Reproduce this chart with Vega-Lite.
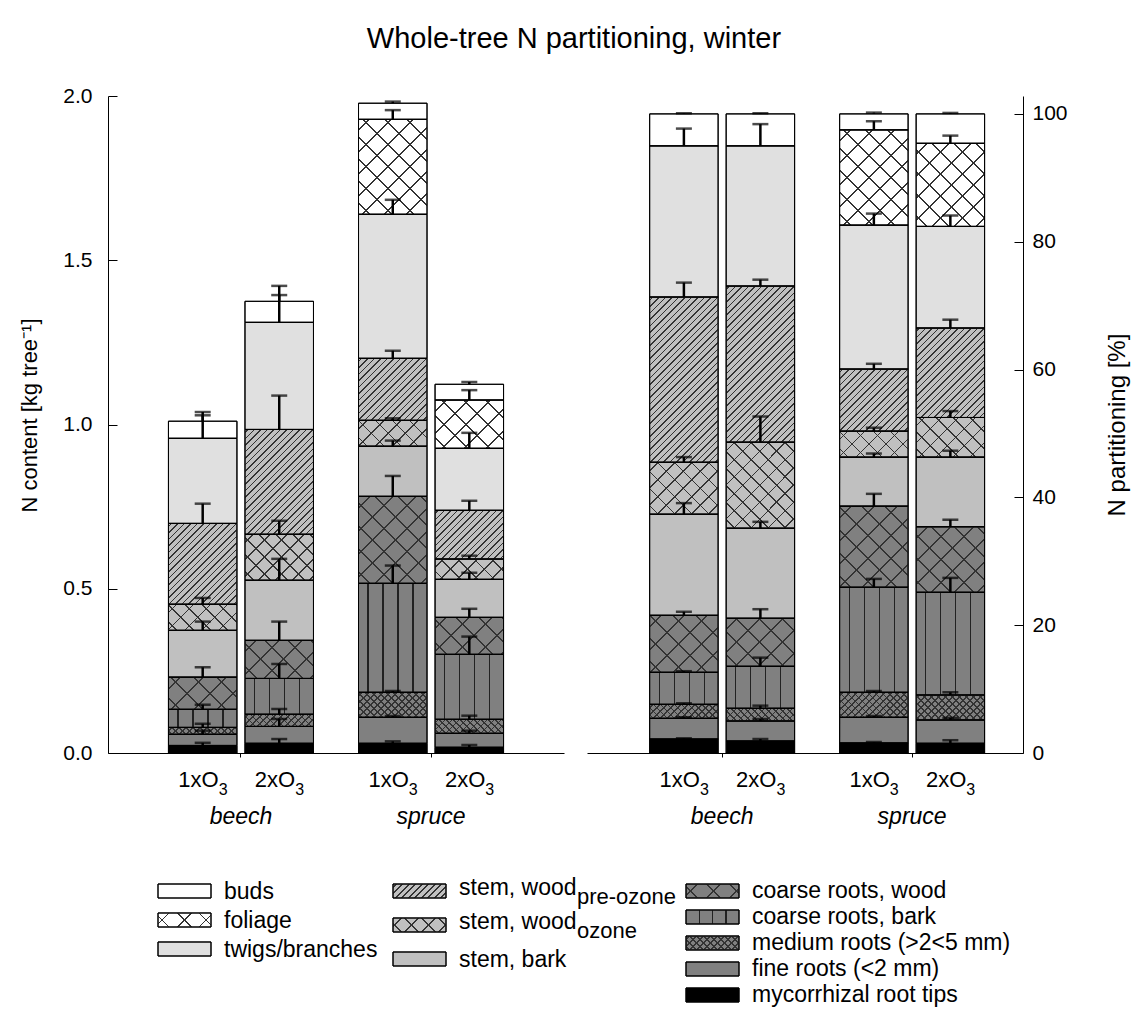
{
  "$schema": "https://vega.github.io/schema/vega-lite/v6.json",
  "background": "white",
  "padding": {"left": 18, "top": 25, "right": 10, "bottom": 10},
  "title": {"text": "Whole-tree N partitioning, winter", "fontSize": 29, "fontWeight": "normal", "font": "Liberation Sans", "color": "black", "anchor": "middle", "offset": 31},
  "params": [
    {"name": "stA", "value": [
      {"offset":0.0095,"color":"transparent"},{"offset":0.0095,"color":"#333"},{"offset":0.0155,"color":"#333"},{"offset":0.0155,"color":"transparent"},
      {"offset":0.0345,"color":"transparent"},{"offset":0.0345,"color":"#333"},{"offset":0.0405,"color":"#333"},{"offset":0.0405,"color":"transparent"},
      {"offset":0.0595,"color":"transparent"},{"offset":0.0595,"color":"#333"},{"offset":0.0655,"color":"#333"},{"offset":0.0655,"color":"transparent"},
      {"offset":0.0845,"color":"transparent"},{"offset":0.0845,"color":"#333"},{"offset":0.0905,"color":"#333"},{"offset":0.0905,"color":"transparent"},
      {"offset":0.1095,"color":"transparent"},{"offset":0.1095,"color":"#333"},{"offset":0.1155,"color":"#333"},{"offset":0.1155,"color":"transparent"},
      {"offset":0.1345,"color":"transparent"},{"offset":0.1345,"color":"#333"},{"offset":0.1405,"color":"#333"},{"offset":0.1405,"color":"transparent"},
      {"offset":0.1595,"color":"transparent"},{"offset":0.1595,"color":"#333"},{"offset":0.1655,"color":"#333"},{"offset":0.1655,"color":"transparent"},
      {"offset":0.1845,"color":"transparent"},{"offset":0.1845,"color":"#333"},{"offset":0.1905,"color":"#333"},{"offset":0.1905,"color":"transparent"},
      {"offset":0.2095,"color":"transparent"},{"offset":0.2095,"color":"#333"},{"offset":0.2155,"color":"#333"},{"offset":0.2155,"color":"transparent"},
      {"offset":0.2345,"color":"transparent"},{"offset":0.2345,"color":"#333"},{"offset":0.2405,"color":"#333"},{"offset":0.2405,"color":"transparent"},
      {"offset":0.2595,"color":"transparent"},{"offset":0.2595,"color":"#333"},{"offset":0.2655,"color":"#333"},{"offset":0.2655,"color":"transparent"},
      {"offset":0.2845,"color":"transparent"},{"offset":0.2845,"color":"#333"},{"offset":0.2905,"color":"#333"},{"offset":0.2905,"color":"transparent"},
      {"offset":0.3095,"color":"transparent"},{"offset":0.3095,"color":"#333"},{"offset":0.3155,"color":"#333"},{"offset":0.3155,"color":"transparent"},
      {"offset":0.3345,"color":"transparent"},{"offset":0.3345,"color":"#333"},{"offset":0.3405,"color":"#333"},{"offset":0.3405,"color":"transparent"},
      {"offset":0.3595,"color":"transparent"},{"offset":0.3595,"color":"#333"},{"offset":0.3655,"color":"#333"},{"offset":0.3655,"color":"transparent"},
      {"offset":0.3845,"color":"transparent"},{"offset":0.3845,"color":"#333"},{"offset":0.3905,"color":"#333"},{"offset":0.3905,"color":"transparent"},
      {"offset":0.4095,"color":"transparent"},{"offset":0.4095,"color":"#333"},{"offset":0.4155,"color":"#333"},{"offset":0.4155,"color":"transparent"},
      {"offset":0.4345,"color":"transparent"},{"offset":0.4345,"color":"#333"},{"offset":0.4405,"color":"#333"},{"offset":0.4405,"color":"transparent"},
      {"offset":0.4595,"color":"transparent"},{"offset":0.4595,"color":"#333"},{"offset":0.4655,"color":"#333"},{"offset":0.4655,"color":"transparent"},
      {"offset":0.4845,"color":"transparent"},{"offset":0.4845,"color":"#333"},{"offset":0.4905,"color":"#333"},{"offset":0.4905,"color":"transparent"},
      {"offset":0.5095,"color":"transparent"},{"offset":0.5095,"color":"#333"},{"offset":0.5155,"color":"#333"},{"offset":0.5155,"color":"transparent"},
      {"offset":0.5345,"color":"transparent"},{"offset":0.5345,"color":"#333"},{"offset":0.5405,"color":"#333"},{"offset":0.5405,"color":"transparent"},
      {"offset":0.5595,"color":"transparent"},{"offset":0.5595,"color":"#333"},{"offset":0.5655,"color":"#333"},{"offset":0.5655,"color":"transparent"},
      {"offset":0.5845,"color":"transparent"},{"offset":0.5845,"color":"#333"},{"offset":0.5905,"color":"#333"},{"offset":0.5905,"color":"transparent"},
      {"offset":0.6095,"color":"transparent"},{"offset":0.6095,"color":"#333"},{"offset":0.6155,"color":"#333"},{"offset":0.6155,"color":"transparent"},
      {"offset":0.6345,"color":"transparent"},{"offset":0.6345,"color":"#333"},{"offset":0.6405,"color":"#333"},{"offset":0.6405,"color":"transparent"},
      {"offset":0.6595,"color":"transparent"},{"offset":0.6595,"color":"#333"},{"offset":0.6655,"color":"#333"},{"offset":0.6655,"color":"transparent"},
      {"offset":0.6845,"color":"transparent"},{"offset":0.6845,"color":"#333"},{"offset":0.6905,"color":"#333"},{"offset":0.6905,"color":"transparent"},
      {"offset":0.7095,"color":"transparent"},{"offset":0.7095,"color":"#333"},{"offset":0.7155,"color":"#333"},{"offset":0.7155,"color":"transparent"},
      {"offset":0.7345,"color":"transparent"},{"offset":0.7345,"color":"#333"},{"offset":0.7405,"color":"#333"},{"offset":0.7405,"color":"transparent"},
      {"offset":0.7595,"color":"transparent"},{"offset":0.7595,"color":"#333"},{"offset":0.7655,"color":"#333"},{"offset":0.7655,"color":"transparent"},
      {"offset":0.7845,"color":"transparent"},{"offset":0.7845,"color":"#333"},{"offset":0.7905,"color":"#333"},{"offset":0.7905,"color":"transparent"},
      {"offset":0.8095,"color":"transparent"},{"offset":0.8095,"color":"#333"},{"offset":0.8155,"color":"#333"},{"offset":0.8155,"color":"transparent"},
      {"offset":0.8345,"color":"transparent"},{"offset":0.8345,"color":"#333"},{"offset":0.8405,"color":"#333"},{"offset":0.8405,"color":"transparent"},
      {"offset":0.8595,"color":"transparent"},{"offset":0.8595,"color":"#333"},{"offset":0.8655,"color":"#333"},{"offset":0.8655,"color":"transparent"},
      {"offset":0.8845,"color":"transparent"},{"offset":0.8845,"color":"#333"},{"offset":0.8905,"color":"#333"},{"offset":0.8905,"color":"transparent"},
      {"offset":0.9095,"color":"transparent"},{"offset":0.9095,"color":"#333"},{"offset":0.9155,"color":"#333"},{"offset":0.9155,"color":"transparent"},
      {"offset":0.9345,"color":"transparent"},{"offset":0.9345,"color":"#333"},{"offset":0.9405,"color":"#333"},{"offset":0.9405,"color":"transparent"},
      {"offset":0.9595,"color":"transparent"},{"offset":0.9595,"color":"#333"},{"offset":0.9655,"color":"#333"},{"offset":0.9655,"color":"transparent"},
      {"offset":0.9845,"color":"transparent"},{"offset":0.9845,"color":"#333"},{"offset":0.9905,"color":"#333"},{"offset":0.9905,"color":"transparent"}
    ]},
    {"name": "stB", "value": [
      {"offset":0.0379,"color":"transparent"},{"offset":0.0379,"color":"#333"},{"offset":0.0454,"color":"#333"},{"offset":0.0454,"color":"transparent"},
      {"offset":0.1213,"color":"transparent"},{"offset":0.1213,"color":"#333"},{"offset":0.1288,"color":"#333"},{"offset":0.1288,"color":"transparent"},
      {"offset":0.2046,"color":"transparent"},{"offset":0.2046,"color":"#333"},{"offset":0.2121,"color":"#333"},{"offset":0.2121,"color":"transparent"},
      {"offset":0.2879,"color":"transparent"},{"offset":0.2879,"color":"#333"},{"offset":0.2954,"color":"#333"},{"offset":0.2954,"color":"transparent"},
      {"offset":0.3713,"color":"transparent"},{"offset":0.3713,"color":"#333"},{"offset":0.3788,"color":"#333"},{"offset":0.3788,"color":"transparent"},
      {"offset":0.4546,"color":"transparent"},{"offset":0.4546,"color":"#333"},{"offset":0.4621,"color":"#333"},{"offset":0.4621,"color":"transparent"},
      {"offset":0.5379,"color":"transparent"},{"offset":0.5379,"color":"#333"},{"offset":0.5454,"color":"#333"},{"offset":0.5454,"color":"transparent"},
      {"offset":0.6213,"color":"transparent"},{"offset":0.6213,"color":"#333"},{"offset":0.6288,"color":"#333"},{"offset":0.6288,"color":"transparent"},
      {"offset":0.7046,"color":"transparent"},{"offset":0.7046,"color":"#333"},{"offset":0.7121,"color":"#333"},{"offset":0.7121,"color":"transparent"},
      {"offset":0.7879,"color":"transparent"},{"offset":0.7879,"color":"#333"},{"offset":0.7954,"color":"#333"},{"offset":0.7954,"color":"transparent"},
      {"offset":0.8713,"color":"transparent"},{"offset":0.8713,"color":"#333"},{"offset":0.8788,"color":"#333"},{"offset":0.8788,"color":"transparent"},
      {"offset":0.9546,"color":"transparent"},{"offset":0.9546,"color":"#333"},{"offset":0.9621,"color":"#333"},{"offset":0.9621,"color":"transparent"}
    ]}
  ],
  "datasets": {
    "parts": [
      {"species":"beech","ozone":"1x","component":"mycorrhizal root tips","n":0.023,"n_se":0.008,"pct":2.19,"pct_se":0.11},
      {"species":"beech","ozone":"1x","component":"fine roots (<2 mm)","n":0.034,"n_se":0.011,"pct":3.24,"pct_se":0.16},
      {"species":"beech","ozone":"1x","component":"medium roots (>2<5 mm)","n":0.021,"n_se":0.011,"pct":2.19,"pct_se":0.16},
      {"species":"beech","ozone":"1x","component":"coarse roots, bark","n":0.055,"n_se":0.014,"pct":5.01,"pct_se":0.17},
      {"species":"beech","ozone":"1x","component":"coarse roots, wood","n":0.098,"n_se":0.03,"pct":8.92,"pct_se":0.55},
      {"species":"beech","ozone":"1x","component":"stem, bark","n":0.1425,"n_se":0.0265,"pct":15.82,"pct_se":1.73},
      {"species":"beech","ozone":"1x","component":"stem, wood ozone","n":0.0795,"n_se":0.019,"pct":8.13,"pct_se":0.8},
      {"species":"beech","ozone":"1x","component":"stem, wood pre-ozone","n":0.246,"n_se":0.06,"pct":25.85,"pct_se":2.25},
      {"species":"beech","ozone":"1x","component":"twigs/branches","n":0.259,"n_se":0.07,"pct":23.65,"pct_se":2.7},
      {"species":"beech","ozone":"1x","component":"buds","n":0.052,"n_se":0.028,"pct":5.0,"pct_se":0.1},
      {"species":"beech","ozone":"2x","component":"mycorrhizal root tips","n":0.0295,"n_se":0.013,"pct":1.88,"pct_se":0.31},
      {"species":"beech","ozone":"2x","component":"fine roots (<2 mm)","n":0.0515,"n_se":0.0225,"pct":3.13,"pct_se":0.31},
      {"species":"beech","ozone":"2x","component":"medium roots (>2<5 mm)","n":0.037,"n_se":0.016,"pct":1.99,"pct_se":0.41},
      {"species":"beech","ozone":"2x","component":"coarse roots, bark","n":0.109,"n_se":0.044,"pct":6.57,"pct_se":1.35},
      {"species":"beech","ozone":"2x","component":"coarse roots, wood","n":0.116,"n_se":0.057,"pct":7.52,"pct_se":1.41},
      {"species":"beech","ozone":"2x","component":"stem, bark","n":0.183,"n_se":0.065,"pct":14.09,"pct_se":0.99},
      {"species":"beech","ozone":"2x","component":"stem, wood ozone","n":0.14,"n_se":0.041,"pct":13.46,"pct_se":4.01},
      {"species":"beech","ozone":"2x","component":"stem, wood pre-ozone","n":0.319,"n_se":0.103,"pct":24.43,"pct_se":0.99},
      {"species":"beech","ozone":"2x","component":"twigs/branches","n":0.326,"n_se":0.083,"pct":21.93,"pct_se":3.4},
      {"species":"beech","ozone":"2x","component":"buds","n":0.064,"n_se":0.047,"pct":5.0,"pct_se":0.1},
      {"species":"spruce","ozone":"1x","component":"mycorrhizal root tips","n":0.0295,"n_se":0.006,"pct":1.57,"pct_se":0.15},
      {"species":"spruce","ozone":"1x","component":"fine roots (<2 mm)","n":0.0792,"n_se":0.004,"pct":4.02,"pct_se":0.2},
      {"species":"spruce","ozone":"1x","component":"medium roots (>2<5 mm)","n":0.0761,"n_se":0.004,"pct":3.91,"pct_se":0.2},
      {"species":"spruce","ozone":"1x","component":"coarse roots, bark","n":0.3318,"n_se":0.054,"pct":16.44,"pct_se":1.3},
      {"species":"spruce","ozone":"1x","component":"coarse roots, wood","n":0.2648,"n_se":0.062,"pct":12.69,"pct_se":1.92},
      {"species":"spruce","ozone":"1x","component":"stem, bark","n":0.1526,"n_se":0.017,"pct":7.67,"pct_se":0.56},
      {"species":"spruce","ozone":"1x","component":"stem, wood ozone","n":0.0788,"n_se":0.006,"pct":4.07,"pct_se":0.53},
      {"species":"spruce","ozone":"1x","component":"stem, wood pre-ozone","n":0.1887,"n_se":0.023,"pct":9.71,"pct_se":0.82},
      {"species":"spruce","ozone":"1x","component":"twigs/branches","n":0.4385,"n_se":0.044,"pct":22.52,"pct_se":1.8},
      {"species":"spruce","ozone":"1x","component":"foliage","n":0.289,"n_se":0.028,"pct":14.9,"pct_se":1.35},
      {"species":"spruce","ozone":"1x","component":"buds","n":0.049,"n_se":0.005,"pct":2.5,"pct_se":0.2},
      {"species":"spruce","ozone":"2x","component":"mycorrhizal root tips","n":0.0174,"n_se":0.007,"pct":1.52,"pct_se":0.48},
      {"species":"spruce","ozone":"2x","component":"fine roots (<2 mm)","n":0.0426,"n_se":0.008,"pct":3.65,"pct_se":0.33},
      {"species":"spruce","ozone":"2x","component":"medium roots (>2<5 mm)","n":0.0426,"n_se":0.011,"pct":3.91,"pct_se":0.42},
      {"species":"spruce","ozone":"2x","component":"coarse roots, bark","n":0.1978,"n_se":0.054,"pct":16.07,"pct_se":2.25},
      {"species":"spruce","ozone":"2x","component":"coarse roots, wood","n":0.1126,"n_se":0.026,"pct":10.25,"pct_se":1.1},
      {"species":"spruce","ozone":"2x","component":"stem, bark","n":0.1157,"n_se":0.02,"pct":10.9,"pct_se":1.0},
      {"species":"spruce","ozone":"2x","component":"stem, wood ozone","n":0.0619,"n_se":0.01,"pct":6.2,"pct_se":1.0},
      {"species":"spruce","ozone":"2x","component":"stem, wood pre-ozone","n":0.1482,"n_se":0.029,"pct":14.0,"pct_se":1.3},
      {"species":"spruce","ozone":"2x","component":"twigs/branches","n":0.1888,"n_se":0.047,"pct":15.9,"pct_se":1.7},
      {"species":"spruce","ozone":"2x","component":"foliage","n":0.147,"n_se":0.03,"pct":13.0,"pct_se":1.2},
      {"species":"spruce","ozone":"2x","component":"buds","n":0.0478,"n_se":0.007,"pct":4.6,"pct_se":0.15}
    ]
  },
  "data": {"name": "parts"},
  "config": {
    "font": "Liberation Sans",
    "view": {"stroke": null},
    "text": {"font": "Liberation Sans"},
    "axis": {"labelFont": "Liberation Sans", "titleFont": "Liberation Sans", "labelFontSize": 21, "titleFontSize": 23, "titleFontWeight": "normal", "labelColor": "black", "titleColor": "black", "domainColor": "black", "tickColor": "black", "grid": false, "domainWidth": 1, "tickWidth": 1}
  },
  "spacing": 49,
  "vconcat": [
    {
      "hconcat": [
        {
          "width": 456, "height": 657,
          "transform": [
            {"stack": "n", "groupby": ["species", "ozone"], "as": ["lo", "hi"]},
            {"calculate": "datum.hi + datum.n_se", "as": "tip"}
          ],
          "encoding": {
            "x": {"field": "species", "type": "nominal", "sort": ["beech", "spruce"], "scale": {"paddingInner": 0.237, "paddingOuter": 0.318}, "axis": {"title": null, "labelFontStyle": "italic", "labelFontSize": 23, "labelAngle": 0, "labelPadding": 48, "tickSize": 4}},
            "xOffset": {"field": "ozone", "type": "nominal", "sort": ["1x", "2x"], "scale": {"paddingInner": 0.105, "paddingOuter": 0}}
          },
          "layer": [
            {
              "mark": {"type": "bar", "stroke": "black", "strokeWidth": 1},
              "encoding": {
                "y": {"field": "lo", "type": "quantitative", "scale": {"domain": [0, 2], "nice": false}, "axis": {"title": "N content [kg tree⁻¹]", "titleFontSize": 22, "titleY": 319, "values": [0, 0.5, 1, 1.5, 2], "format": ".1f", "tickSize": -9, "labelPadding": 25, "titlePadding": 21}},
                "y2": {"field": "hi"},
                "color": {"field": "component", "type": "nominal", "legend": null, "scale": {"domain": ["buds", "foliage", "twigs/branches", "stem, wood pre-ozone", "stem, wood ozone", "stem, bark", "coarse roots, wood", "coarse roots, bark", "medium roots (>2<5 mm)", "fine roots (<2 mm)", "mycorrhizal root tips"], "range": ["#ffffff", "#ffffff", "#e0e0e0", "#c0c0c0", "#c0c0c0", "#c0c0c0", "#808080", "#808080", "#808080", "#808080", "#000000"]}}
              }
            },
            {
              "transform": [{"filter": {"field": "component", "oneOf": ["stem, wood pre-ozone", "stem, wood ozone", "foliage", "coarse roots, wood", "medium roots (>2<5 mm)"]}}],
              "mark": {"type": "bar", "fill": {"expr": "{gradient: 'linear', x1: 0, y1: 0, x2: 68.5 * (datum.component == 'stem, wood pre-ozone' ? 260 : datum.component == 'medium roots (>2<5 mm)' ? 280 : datum.component == 'stem, wood ozone' ? 204 : datum.component == 'foliage' ? 264 : 276) / (4692.25 + pow((datum.hi - datum.lo) * 328.5, 2)), y2: (datum.hi - datum.lo) * 328.5 * (datum.component == 'stem, wood pre-ozone' ? 260 : datum.component == 'medium roots (>2<5 mm)' ? 280 : datum.component == 'stem, wood ozone' ? 204 : datum.component == 'foliage' ? 264 : 276) / (4692.25 + pow((datum.hi - datum.lo) * 328.5, 2)), stops: (datum.component == 'stem, wood pre-ozone' || datum.component == 'medium roots (>2<5 mm)' ? stA : stB)}"}},
              "encoding": {"y": {"field": "lo", "type": "quantitative"}, "y2": {"field": "hi"}}
            },
            {
              "transform": [{"filter": {"field": "component", "oneOf": ["stem, wood ozone", "foliage", "coarse roots, wood", "medium roots (>2<5 mm)"]}}],
              "mark": {"type": "bar", "fill": {"expr": "{gradient: 'linear', x1: 0, y1: 1, x2: 68.5 * (datum.component == 'medium roots (>2<5 mm)' ? 280 : datum.component == 'stem, wood ozone' ? 204 : datum.component == 'foliage' ? 264 : 276) / (4692.25 + pow((datum.hi - datum.lo) * 328.5, 2)), y2: 1 - (datum.hi - datum.lo) * 328.5 * (datum.component == 'medium roots (>2<5 mm)' ? 280 : datum.component == 'stem, wood ozone' ? 204 : datum.component == 'foliage' ? 264 : 276) / (4692.25 + pow((datum.hi - datum.lo) * 328.5, 2)), stops: (datum.component == 'medium roots (>2<5 mm)' ? stA : stB)}"}},
              "encoding": {"y": {"field": "lo", "type": "quantitative"}, "y2": {"field": "hi"}}
            },
            {
              "transform": [{"filter": "datum.component == 'coarse roots, bark'"}],
              "mark": {"type": "bar", "fill": {"gradient": "linear", "x1": 0, "y1": 0, "x2": 1, "y2": 0, "stops": [{"offset":0.1299,"color":"transparent"},{"offset":0.1299,"color":"#222"},{"offset":0.1474,"color":"#222"},{"offset":0.1474,"color":"transparent"},{"offset":0.3489,"color":"transparent"},{"offset":0.3489,"color":"#222"},{"offset":0.3664,"color":"#222"},{"offset":0.3664,"color":"transparent"},{"offset":0.5679,"color":"transparent"},{"offset":0.5679,"color":"#222"},{"offset":0.5854,"color":"#222"},{"offset":0.5854,"color":"transparent"},{"offset":0.7869,"color":"transparent"},{"offset":0.7869,"color":"#222"},{"offset":0.8044,"color":"#222"},{"offset":0.8044,"color":"transparent"}]}},
              "encoding": {"y": {"field": "lo", "type": "quantitative"}, "y2": {"field": "hi"}}
            },
            {
              "mark": {"type": "bar", "fill": "transparent", "stroke": "black", "strokeWidth": 1},
              "encoding": {"y": {"field": "lo", "type": "quantitative"}, "y2": {"field": "hi"}}
            },
            {
              "mark": {"type": "rule", "color": "black", "strokeWidth": 2.5},
              "encoding": {"y": {"field": "hi", "type": "quantitative"}, "y2": {"field": "tip"}}
            },
            {
              "mark": {"type": "tick", "orient": "horizontal", "color": "black", "size": 16, "thickness": 2.5},
              "encoding": {"y": {"field": "tip", "type": "quantitative"}}
            },
            {
              "transform": [{"filter": "datum.component == 'buds'"}],
              "mark": {"type": "text", "text": {"expr": "datum.ozone + 'O'"}, "align": "right", "baseline": "alphabetic", "dx": 16, "dy": 34, "fontSize": 22, "color": "black"},
              "encoding": {"y": {"datum": 0, "type": "quantitative"}}
            },
            {
              "transform": [{"filter": "datum.component == 'buds'"}],
              "mark": {"type": "text", "text": "3", "align": "left", "baseline": "alphabetic", "dx": 16, "dy": 42, "fontSize": 16, "color": "black"},
              "encoding": {"y": {"datum": 0, "type": "quantitative"}}
            }
          ]
        },
        {
          "width": 436, "height": 657,
          "transform": [
            {"stack": "pct", "groupby": ["species", "ozone"], "as": ["lo", "hi"]},
            {"calculate": "datum.hi + datum.pct_se", "as": "tip"}
          ],
          "encoding": {
            "x": {"field": "species", "type": "nominal", "sort": ["beech", "spruce"], "scale": {"paddingInner": 0.237, "paddingOuter": 0.266, "align": 0.62}, "axis": {"title": null, "labelFontStyle": "italic", "labelFontSize": 23, "labelAngle": 0, "labelPadding": 48, "tickSize": 4}},
            "xOffset": {"field": "ozone", "type": "nominal", "sort": ["1x", "2x"], "scale": {"paddingInner": 0.105, "paddingOuter": 0}}
          },
          "layer": [
            {
              "mark": {"type": "bar", "stroke": "black", "strokeWidth": 1},
              "encoding": {
                "y": {"field": "lo", "type": "quantitative", "scale": {"domain": [0, 102.8], "nice": false}, "axis": {"orient": "right", "title": "N partitioning [%]", "titleFontSize": 24, "values": [0, 20, 40, 60, 80, 100], "format": "d", "tickSize": -9, "labelPadding": 18, "titlePadding": 62, "titleAngle": 270}},
                "y2": {"field": "hi"},
                "color": {"field": "component", "type": "nominal", "legend": null, "scale": {"domain": ["buds", "foliage", "twigs/branches", "stem, wood pre-ozone", "stem, wood ozone", "stem, bark", "coarse roots, wood", "coarse roots, bark", "medium roots (>2<5 mm)", "fine roots (<2 mm)", "mycorrhizal root tips"], "range": ["#ffffff", "#ffffff", "#e0e0e0", "#c0c0c0", "#c0c0c0", "#c0c0c0", "#808080", "#808080", "#808080", "#808080", "#000000"]}}
              }
            },
            {
              "transform": [{"filter": {"field": "component", "oneOf": ["stem, wood pre-ozone", "stem, wood ozone", "foliage", "coarse roots, wood", "medium roots (>2<5 mm)"]}}],
              "mark": {"type": "bar", "fill": {"expr": "{gradient: 'linear', x1: 0, y1: 0, x2: 68.5 * (datum.component == 'stem, wood pre-ozone' ? 260 : datum.component == 'medium roots (>2<5 mm)' ? 280 : datum.component == 'stem, wood ozone' ? 204 : datum.component == 'foliage' ? 264 : 276) / (4692.25 + pow((datum.hi - datum.lo) * 6.3911, 2)), y2: (datum.hi - datum.lo) * 6.3911 * (datum.component == 'stem, wood pre-ozone' ? 260 : datum.component == 'medium roots (>2<5 mm)' ? 280 : datum.component == 'stem, wood ozone' ? 204 : datum.component == 'foliage' ? 264 : 276) / (4692.25 + pow((datum.hi - datum.lo) * 6.3911, 2)), stops: (datum.component == 'stem, wood pre-ozone' || datum.component == 'medium roots (>2<5 mm)' ? stA : stB)}"}},
              "encoding": {"y": {"field": "lo", "type": "quantitative"}, "y2": {"field": "hi"}}
            },
            {
              "transform": [{"filter": {"field": "component", "oneOf": ["stem, wood ozone", "foliage", "coarse roots, wood", "medium roots (>2<5 mm)"]}}],
              "mark": {"type": "bar", "fill": {"expr": "{gradient: 'linear', x1: 0, y1: 1, x2: 68.5 * (datum.component == 'medium roots (>2<5 mm)' ? 280 : datum.component == 'stem, wood ozone' ? 204 : datum.component == 'foliage' ? 264 : 276) / (4692.25 + pow((datum.hi - datum.lo) * 6.3911, 2)), y2: 1 - (datum.hi - datum.lo) * 6.3911 * (datum.component == 'medium roots (>2<5 mm)' ? 280 : datum.component == 'stem, wood ozone' ? 204 : datum.component == 'foliage' ? 264 : 276) / (4692.25 + pow((datum.hi - datum.lo) * 6.3911, 2)), stops: (datum.component == 'medium roots (>2<5 mm)' ? stA : stB)}"}},
              "encoding": {"y": {"field": "lo", "type": "quantitative"}, "y2": {"field": "hi"}}
            },
            {
              "transform": [{"filter": "datum.component == 'coarse roots, bark'"}],
              "mark": {"type": "bar", "fill": {"gradient": "linear", "x1": 0, "y1": 0, "x2": 1, "y2": 0, "stops": [{"offset":0.1299,"color":"transparent"},{"offset":0.1299,"color":"#222"},{"offset":0.1474,"color":"#222"},{"offset":0.1474,"color":"transparent"},{"offset":0.3489,"color":"transparent"},{"offset":0.3489,"color":"#222"},{"offset":0.3664,"color":"#222"},{"offset":0.3664,"color":"transparent"},{"offset":0.5679,"color":"transparent"},{"offset":0.5679,"color":"#222"},{"offset":0.5854,"color":"#222"},{"offset":0.5854,"color":"transparent"},{"offset":0.7869,"color":"transparent"},{"offset":0.7869,"color":"#222"},{"offset":0.8044,"color":"#222"},{"offset":0.8044,"color":"transparent"}]}},
              "encoding": {"y": {"field": "lo", "type": "quantitative"}, "y2": {"field": "hi"}}
            },
            {
              "mark": {"type": "bar", "fill": "transparent", "stroke": "black", "strokeWidth": 1},
              "encoding": {"y": {"field": "lo", "type": "quantitative"}, "y2": {"field": "hi"}}
            },
            {
              "mark": {"type": "rule", "color": "black", "strokeWidth": 2.5},
              "encoding": {"y": {"field": "hi", "type": "quantitative"}, "y2": {"field": "tip"}}
            },
            {
              "mark": {"type": "tick", "orient": "horizontal", "color": "black", "size": 16, "thickness": 2.5},
              "encoding": {"y": {"field": "tip", "type": "quantitative"}}
            },
            {
              "transform": [{"filter": "datum.component == 'buds'"}],
              "mark": {"type": "text", "text": {"expr": "datum.ozone + 'O'"}, "align": "right", "baseline": "alphabetic", "dx": 16, "dy": 34, "fontSize": 22, "color": "black"},
              "encoding": {"y": {"datum": 0, "type": "quantitative"}}
            },
            {
              "transform": [{"filter": "datum.component == 'buds'"}],
              "mark": {"type": "text", "text": "3", "align": "left", "baseline": "alphabetic", "dx": 16, "dy": 42, "fontSize": 16, "color": "black"},
              "encoding": {"y": {"datum": 0, "type": "quantitative"}}
            }
          ]
        }
      ],
      "spacing": 23,
      "bounds": "flush",
      "resolve": {"scale": {"xOffset": "independent"}}
    },
    {
      "hconcat": [
        {
          "width": 285, "height": 72,
          "transform": [
            {"filter": "datum.species == 'spruce' && datum.ozone == '1x'"},
            {"filter": {"field": "component", "oneOf": ["buds", "foliage", "twigs/branches"]}}
          ],
          "encoding": {
            "x": {"field": "species", "type": "nominal", "scale": {"paddingInner": 0.5431, "paddingOuter": 1, "align": 0.21552}, "axis": null},
            "y": {"field": "component", "type": "nominal", "sort": ["buds", "foliage", "twigs/branches"], "scale": {"paddingInner": 0.517, "paddingOuter": 0}, "axis": null}
          },
          "layer": [
            {
              "mark": {"type": "rect", "stroke": "black", "strokeWidth": 1},
              "encoding": {"color": {"field": "component", "type": "nominal", "legend": null, "scale": {"domain": ["buds", "foliage", "twigs/branches", "stem, wood pre-ozone", "stem, wood ozone", "stem, bark", "coarse roots, wood", "coarse roots, bark", "medium roots (>2<5 mm)", "fine roots (<2 mm)", "mycorrhizal root tips"], "range": ["#ffffff", "#ffffff", "#e0e0e0", "#c0c0c0", "#c0c0c0", "#c0c0c0", "#808080", "#808080", "#808080", "#808080", "#000000"]}}}
            },
            {
              "transform": [{"filter": "datum.component == 'foliage'"}],
              "mark": {"type": "rect", "fill": {"expr": "{gradient: 'linear', x1: 0, y1: 0, x2: 53 * 264 / 3005, y2: 14 * 264 / 3005, stops: stB}"}}
            },
            {
              "transform": [{"filter": "datum.component == 'foliage'"}],
              "mark": {"type": "rect", "fill": {"expr": "{gradient: 'linear', x1: 0, y1: 1, x2: 53 * 264 / 3005, y2: 1 - 14 * 264 / 3005, stops: stB}"}}
            },
            {
              "mark": {"type": "rect", "fill": "transparent", "stroke": "black", "strokeWidth": 1}
            },
            {
              "mark": {"type": "text", "align": "left", "baseline": "alphabetic", "dx": 66, "dy": 8, "fontSize": 23, "color": "black"},
              "encoding": {"text": {"field": "component"}, "x": {"field": "species", "type": "nominal", "bandPosition": 0}}
            }
          ]
        },
        {
          "width": 293, "height": 82,
          "transform": [
            {"filter": "datum.species == 'spruce' && datum.ozone == '1x'"},
            {"filter": {"field": "component", "oneOf": ["stem, wood pre-ozone", "stem, wood ozone", "stem, bark"]}}
          ],
          "encoding": {
            "x": {"field": "species", "type": "nominal", "scale": {"paddingInner": 0.55833, "paddingOuter": 1, "align": 0}, "axis": null},
            "y": {"field": "component", "type": "nominal", "sort": ["stem, wood pre-ozone", "stem, wood ozone", "stem, bark"], "scale": {"paddingInner": 0.588, "paddingOuter": 0}, "axis": null}
          },
          "layer": [
            {
              "mark": {"type": "rect", "stroke": "black", "strokeWidth": 1},
              "encoding": {"color": {"field": "component", "type": "nominal", "legend": null, "scale": {"domain": ["buds", "foliage", "twigs/branches", "stem, wood pre-ozone", "stem, wood ozone", "stem, bark", "coarse roots, wood", "coarse roots, bark", "medium roots (>2<5 mm)", "fine roots (<2 mm)", "mycorrhizal root tips"], "range": ["#ffffff", "#ffffff", "#e0e0e0", "#c0c0c0", "#c0c0c0", "#c0c0c0", "#808080", "#808080", "#808080", "#808080", "#000000"]}}}
            },
            {
              "transform": [{"filter": {"field": "component", "oneOf": ["stem, wood pre-ozone", "stem, wood ozone"]}}],
              "mark": {"type": "rect", "fill": {"expr": "{gradient: 'linear', x1: 0, y1: 0, x2: 53 * (datum.component == 'stem, wood pre-ozone' ? 260 : 204) / 3005, y2: 14 * (datum.component == 'stem, wood pre-ozone' ? 260 : 204) / 3005, stops: (datum.component == 'stem, wood pre-ozone' ? stA : stB)}"}}
            },
            {
              "transform": [{"filter": "datum.component == 'stem, wood ozone'"}],
              "mark": {"type": "rect", "fill": {"expr": "{gradient: 'linear', x1: 0, y1: 1, x2: 53 * 204 / 3005, y2: 1 - 14 * 204 / 3005, stops: stB}"}}
            },
            {
              "mark": {"type": "rect", "fill": "transparent", "stroke": "black", "strokeWidth": 1}
            },
            {
              "transform": [{"filter": "indexof(datum.component, 'stem, wood') == 0"}],
              "mark": {"type": "text", "align": "left", "baseline": "alphabetic", "dx": 66, "dy": 4, "fontSize": 23, "color": "black", "text": "stem, wood"},
              "encoding": {"x": {"field": "species", "type": "nominal", "bandPosition": 0}}
            },
            {
              "transform": [{"filter": "indexof(datum.component, 'stem, wood') == 0"}],
              "mark": {"type": "text", "align": "left", "baseline": "alphabetic", "dx": 184, "dy": 13, "fontSize": 22, "color": "black", "text": {"expr": "replace(datum.component, 'stem, wood ', '')"}},
              "encoding": {"x": {"field": "species", "type": "nominal", "bandPosition": 0}}
            },
            {
              "transform": [{"filter": "datum.component == 'stem, bark'"}],
              "mark": {"type": "text", "align": "left", "baseline": "alphabetic", "dx": 66, "dy": 8, "fontSize": 23, "color": "black"},
              "encoding": {"text": {"field": "component"}, "x": {"field": "species", "type": "nominal", "bandPosition": 0}}
            }
          ]
        },
        {
          "width": 300, "height": 118,
          "transform": [
            {"filter": "datum.species == 'spruce' && datum.ozone == '1x'"},
            {"filter": {"field": "component", "oneOf": ["coarse roots, wood", "coarse roots, bark", "medium roots (>2<5 mm)", "fine roots (<2 mm)", "mycorrhizal root tips"]}}
          ],
          "encoding": {
            "x": {"field": "species", "type": "nominal", "scale": {"paddingInner": 0.57085, "paddingOuter": 1, "align": 0}, "axis": null},
            "y": {"field": "component", "type": "nominal", "sort": ["coarse roots, wood", "coarse roots, bark", "medium roots (>2<5 mm)", "fine roots (<2 mm)", "mycorrhizal root tips"], "scale": {"paddingInner": 0.4615, "paddingOuter": 0}, "axis": null}
          },
          "layer": [
            {
              "mark": {"type": "rect", "stroke": "black", "strokeWidth": 1},
              "encoding": {"color": {"field": "component", "type": "nominal", "legend": null, "scale": {"domain": ["buds", "foliage", "twigs/branches", "stem, wood pre-ozone", "stem, wood ozone", "stem, bark", "coarse roots, wood", "coarse roots, bark", "medium roots (>2<5 mm)", "fine roots (<2 mm)", "mycorrhizal root tips"], "range": ["#ffffff", "#ffffff", "#e0e0e0", "#c0c0c0", "#c0c0c0", "#c0c0c0", "#808080", "#808080", "#808080", "#808080", "#000000"]}}}
            },
            {
              "transform": [{"filter": {"field": "component", "oneOf": ["coarse roots, wood", "medium roots (>2<5 mm)"]}}],
              "mark": {"type": "rect", "fill": {"expr": "{gradient: 'linear', x1: 0, y1: 0, x2: 53 * (datum.component == 'coarse roots, wood' ? 276 : 280) / 3005, y2: 14 * (datum.component == 'coarse roots, wood' ? 276 : 280) / 3005, stops: (datum.component == 'coarse roots, wood' ? stB : stA)}"}}
            },
            {
              "transform": [{"filter": {"field": "component", "oneOf": ["coarse roots, wood", "medium roots (>2<5 mm)"]}}],
              "mark": {"type": "rect", "fill": {"expr": "{gradient: 'linear', x1: 0, y1: 1, x2: 53 * (datum.component == 'coarse roots, wood' ? 276 : 280) / 3005, y2: 1 - 14 * (datum.component == 'coarse roots, wood' ? 276 : 280) / 3005, stops: (datum.component == 'coarse roots, wood' ? stB : stA)}"}}
            },
            {
              "transform": [{"filter": "datum.component == 'coarse roots, bark'"}],
              "mark": {"type": "rect", "fill": {"gradient": "linear", "x1": 0, "y1": 0, "x2": 1, "y2": 0, "stops": [{"offset":0.2437,"color":"transparent"},{"offset":0.2437,"color":"#222"},{"offset":0.2663,"color":"#222"},{"offset":0.2663,"color":"transparent"},{"offset":0.4937,"color":"transparent"},{"offset":0.4937,"color":"#222"},{"offset":0.5163,"color":"#222"},{"offset":0.5163,"color":"transparent"},{"offset":0.7437,"color":"transparent"},{"offset":0.7437,"color":"#222"},{"offset":0.7663,"color":"#222"},{"offset":0.7663,"color":"transparent"}]}}
            },
            {
              "mark": {"type": "rect", "fill": "transparent", "stroke": "black", "strokeWidth": 1}
            },
            {
              "mark": {"type": "text", "align": "left", "baseline": "alphabetic", "dx": 66, "dy": 7, "fontSize": 23, "color": "black"},
              "encoding": {"text": {"field": "component"}, "x": {"field": "species", "type": "nominal", "bandPosition": 0}}
            }
          ]
        }
      ],
      "spacing": 0,
      "bounds": "flush"
    }
  ]
}
